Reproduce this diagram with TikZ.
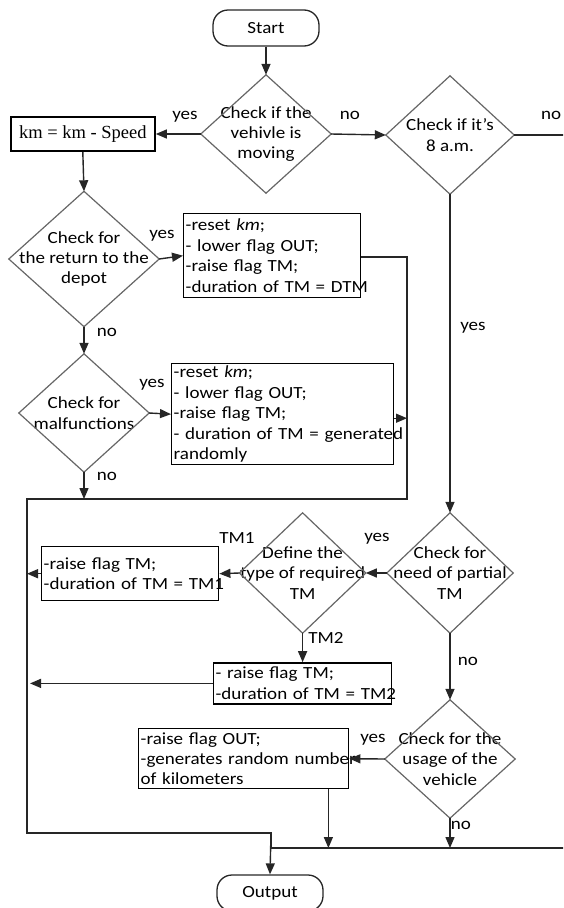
\documentclass[tikz,border=0pt]{standalone}
\usepackage{fontspec}
\setmainfont{Carlito}[FakeStretch=1.12]
\newfontfamily\eqfont{Liberation Serif}
\usetikzlibrary{shapes,arrows.meta,positioning}

\begin{document}
\begin{tikzpicture}[x=1pt,y=-1pt,font=\fontsize{17}{20.4}\selectfont]
    \tikzstyle{terminal} = [rectangle, draw, black!85, text=black, line width=1.3pt,
               rounded corners=15pt, minimum width=106pt, minimum height=36pt]
    \tikzstyle{decision} = [rectangle, inner sep=0pt, align=center]
    \tikzstyle{block} = [rectangle, draw, line width=1.4pt, inner xsep=2pt,
               inner ysep=0pt, align=left]
    \tikzstyle{line} = [draw, black!85, line width=1.4pt,
               -{Triangle[length=11pt,width=9pt]}]
    \tikzstyle{wire} = [draw, black!85, line width=1.4pt]
    \tikzstyle{answer} = [inner sep=0pt]

    \useasboundingbox (0,0) rectangle (563,908);
    \clip (0,0) rectangle (563,908);

    % Left column
    \node[terminal] (start) at (266,28) {Start};
    \node[decision, minimum width=130pt, minimum height=118pt] (chkmove) at (266,134)
      {Check if the\\vehivle is\\moving};
    \node[block, line width=2pt, minimum width=144pt, minimum height=34pt,
      align=center, left=45pt of chkmove] (kmupd)
      {\eqfont\fontsize{18.5}{20}\selectfont km = km - Speed};
    \node[decision, minimum width=150pt, minimum height=135pt] (chkdepot) at (84,259)
      {Check for\\the return to the\\depot};
    \node[block, text width=173pt, minimum height=84pt, anchor=north west] (depotbox)
      at (183,213)
      {-reset \textit{km};\\- lower flag OUT;\\-raise flag TM;\\\mbox{-duration of TM = DTM}};
    \node[decision, minimum width=130pt, minimum height=118pt] (chkfault) at (84,413)
      {Check for\\malfunctions};
    \node[block, text width=218pt, minimum height=101pt, anchor=north west] (faultbox)
      at (171,363)
      {-reset \textit{km};\\- lower flag OUT;\\-raise flag TM;\\
       \mbox{- duration of TM = generated}\\randomly};

    % Right column
    \node[decision, minimum width=128pt, minimum height=118pt] (chkeight) at (450,135)
      {Check if it’s\\8 a.m.};
    \node[decision, minimum width=126pt, minimum height=120pt] (chkpartial) at (450,573)
      {Check for\\need of partial\\TM};
    \node[decision, minimum width=126pt, minimum height=120pt, left=21pt of chkpartial]
      (tmtype) {Define the\\type of required\\TM};
    \node[block, text width=173pt, minimum height=54pt, anchor=north west] (tmonebox)
      at (41,546) {-raise flag TM;\\\mbox{-duration of TM = TM1}};
    \node[block, text width=174pt, minimum height=41pt, below=29pt of tmtype] (tmtwobox)
      {- raise flag TM;\\\mbox{-duration of TM = TM2}};
    \node[decision, minimum width=130pt, minimum height=118pt] (chkusage) at (450,759)
      {Check for the\\usage of the\\vehicle};
    \node[block, text width=206pt, minimum height=60pt, anchor=north west] (outbox)
      at (138,728)
      {-raise flag OUT;\\\mbox{-generates random number}\\of kilometers};
    \node[terminal] (output) at (270,893) {Output};

    % Diamond outlines
    \foreach \d in {chkmove,chkeight,chkdepot,chkfault,chkpartial,tmtype,chkusage}
      \draw[black!60, line width=1.2pt] (\d.north) -- (\d.east) -- (\d.south)
        -- (\d.west) -- cycle;

    % Bus points
    \coordinate (rbus) at (407,257);
    \coordinate (lbus) at (27,499);
    \coordinate (merge) at (271,848);
    \coordinate (drop) at (271,833);

    % Connectors
    \draw[line] (start) -- (chkmove.north);
    \draw[line] (chkmove.west) -- (kmupd.east);
    \draw[line] (chkmove.east) -- (chkeight.west);
    \draw[wire] (chkeight.east) -- (600,135) -- (600,848) -- (merge);
    \draw[line] (kmupd.south) -- (chkdepot.north);
    \draw[line] (chkdepot.east) -- (depotbox.west);
    \draw[wire] (depotbox.east |- rbus) -- (rbus) |- (lbus) -- (27,833) -| (merge);
    \draw[line] (drop) -- (output.north);
    \draw[line] (chkdepot.south) -- (chkfault.north);
    \draw[line] (chkfault.east) -- (faultbox.west);
    \draw[line] ([yshift=-4pt]faultbox.east) -- ([yshift=-4pt]faultbox.east -| rbus);
    \draw[line] (chkfault.south) -- (chkfault.south |- lbus);
    \draw[line] (chkeight.south) -- (chkpartial.north);
    \draw[line] (chkpartial.west) -- (tmtype.east);
    \draw[line] (tmtype.west) -- (tmonebox.east);
    \draw[line] (tmonebox.west) -- (tmonebox.west -| lbus);
    \draw[line] (tmtype.south) -- (tmtwobox.north);
    \draw[line] (tmtwobox.west) -- ([xshift=3pt]tmtwobox.west -| lbus);
    \draw[line] (chkpartial.south) -- (chkusage.north);
    \draw[line] (chkusage.west) -- (outbox.east);
    \draw[line] ([xshift=-21pt]outbox.south east) -- ([xshift=-21pt]outbox.south east |- merge);
    \draw[line] (chkusage.south) -- (chkusage.south |- merge);

    % Answers
    \node[answer] (yesmove) at (185,117) {yes};
    \node[answer] (nomove) at (350,115) {no};
    \node[answer, anchor=west] (noeight) at (541,115) {no};
    \node[answer] (yesdepot) at (162,236) {yes};
    \node[answer] (nodepot) at (107,332) {no};
    \node[answer] (yesfault) at (152,385) {yes};
    \node[answer] (nofault) at (107,476) {no};
    \node[answer] (yeseight) at (473,328) {yes};
    \node[answer] (yespartial) at (377,539) {yes};
    \node[answer] (tmone) at (237,538) {TM1};
    \node[answer] (tmtwo) at (326,638) {TM2};
    \node[answer] (nopartial) at (468,661) {no};
    \node[answer] (yesusage) at (373,740) {yes};
    \node[answer] (nousage) at (461,825) {no};
\end{tikzpicture}
\end{document}
